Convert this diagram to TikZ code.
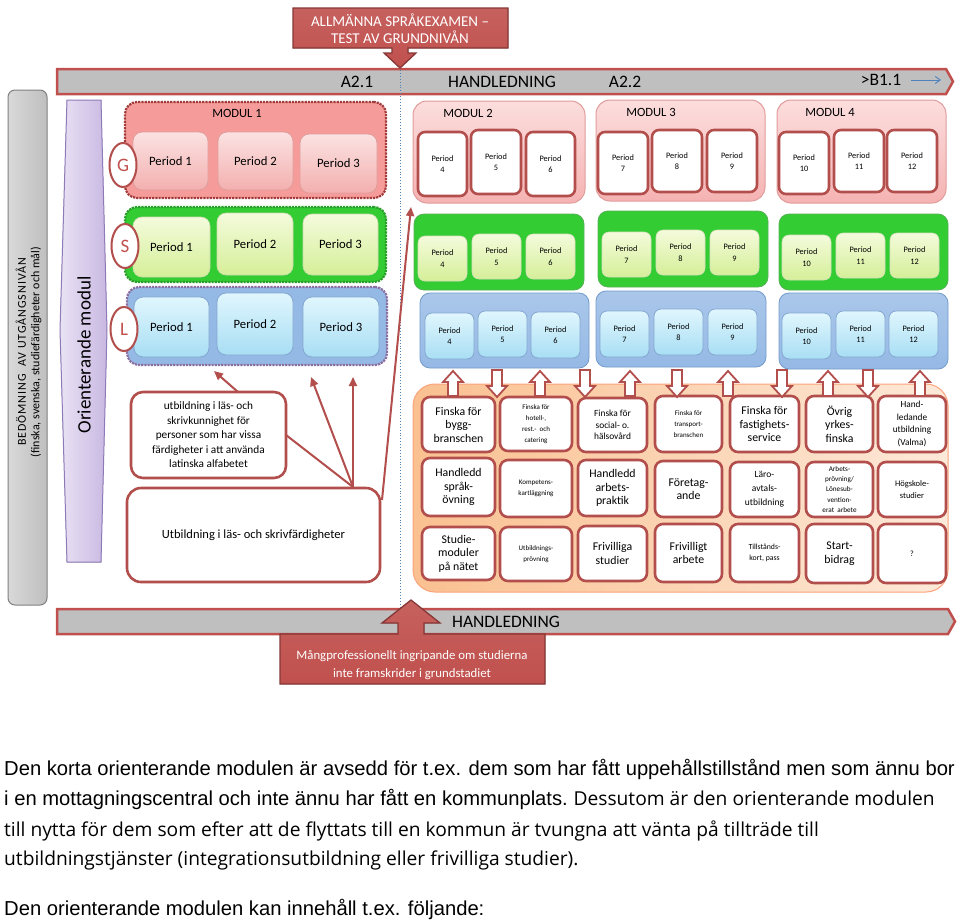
\documentclass[tikz,border=0pt]{standalone}
\usepackage{fontspec}
\setmainfont{Carlito}
\newfontfamily\arialf{Liberation Sans}
\newfontfamily\opensf{Open Sans}
\newfontfamily\spacedf[LetterSpace=8]{Carlito}
\usetikzlibrary{shapes.geometric,arrows.meta}
\definecolor{cred}{HTML}{C0504D}
\definecolor{cbord}{HTML}{B24E4B}
\definecolor{cgray}{HTML}{BFBFBF}
\definecolor{cdgray}{HTML}{808080}
\definecolor{modig}{HTML}{F59C9A}
\definecolor{modigd}{HTML}{A33B3B}
\definecolor{pinkl}{HTML}{FBE2E2}
\definecolor{pinkd}{HTML}{F3B0AF}
\definecolor{cgrn}{HTML}{33CC33}
\definecolor{cgrnd}{HTML}{2A9E2A}
\definecolor{ygl}{HTML}{F4FBDC}
\definecolor{ygd}{HTML}{D5EF98}
\definecolor{cblu}{HTML}{95B9E5}
\definecolor{cblud}{HTML}{8A6FA0}
\definecolor{cyl}{HTML}{E0F6FD}
\definecolor{cyd}{HTML}{A8DEF4}
\definecolor{orl}{HTML}{FDE9D9}
\definecolor{ord}{HTML}{FAC090}
\definecolor{purl}{HTML}{E9E2F4}
\definecolor{purd}{HTML}{C9B8E2}
\definecolor{purb}{HTML}{8F7AB8}
\definecolor{cbl}{HTML}{4F81BD}
\definecolor{modtl}{HTML}{FCDDDD}
\definecolor{modtd}{HTML}{F5B3B2}
\definecolor{modtb}{HTML}{E09C9B}
\newcommand\fsz[2]{\fontsize{#1}{#2}\selectfont}
\newcommand\mybox[7]{%
  \pgfmathsetmacro\bxw{#5-(#3)}%
  \pgfmathsetmacro\bxh{#6-(#4)}%
  \pgfmathsetmacro\bxcx{(#3+#5)/2}%
  \pgfmathsetmacro\bxcy{(#4+#6)/2}%
  \node[#2,minimum width=\bxw pt,minimum height=\bxh pt] (#1) at (\bxcx,\bxcy) {#7};}
\newcommand\uparr[2]{%
  \draw[harr] (#2-5,396) -- (#2-5,382) -- (#2-10,382) -- (#2,371) -- (#2+10,382) -- (#2+5,382) -- (#2+5,396) -- cycle;}
\newcommand\dnarr[2]{%
  \draw[harr] (#2-5,370) -- (#2-5,386) -- (#2-10,386) -- (#2,397) -- (#2+10,386) -- (#2+5,386) -- (#2+5,370) -- cycle;}
\begin{document}
\begin{tikzpicture}[x=1pt,y=-1pt,
  bx/.style={inner sep=0pt,outer sep=0pt,align=center},
  m1g/.style={bx,fill=modig,draw=modigd,densely dotted,line width=2.2pt,rounded corners=12pt},
  m1s/.style={bx,fill=cgrn,draw=cgrnd,densely dotted,line width=2.2pt,rounded corners=12pt},
  m1l/.style={bx,fill=cblu,draw=cblud,densely dotted,line width=2.2pt,rounded corners=12pt},
  pg/.style={bx,top color=pinkl,bottom color=pinkd,draw=modtb,line width=0.8pt,rounded corners=9pt,font=\fsz{12.7}{15}},
  ps/.style={bx,top color=ygl,bottom color=ygd,draw=ygd!80!black!60,line width=0.6pt,rounded corners=9pt,font=\fsz{12.7}{15}},
  pl/.style={bx,top color=cyl,bottom color=cyd,draw=cbl!70,line width=0.8pt,rounded corners=9pt,font=\fsz{12.7}{15}},
  mg/.style={bx,top color=modtl,bottom color=modtd,draw=modtb,line width=1pt,rounded corners=14pt},
  ms/.style={bx,fill=cgrn,draw=cgrnd!80,line width=0.8pt,rounded corners=10pt},
  ml/.style={bx,top color=cblu!80,bottom color=cblu,draw=cbl!80,line width=0.8pt,rounded corners=10pt},
  wp/.style={bx,fill=white,draw=cbord,line width=2.6pt,rounded corners=7pt,font=\fsz{8.3}{11.5}},
  sp/.style={bx,top color=ygl,bottom color=ygd,draw=ygd!80!black!50,line width=0.6pt,rounded corners=7pt,font=\fsz{8.3}{11.5}},
  lp/.style={bx,top color=cyl,bottom color=cyd,draw=cbl!70,line width=0.8pt,rounded corners=7pt,font=\fsz{8.3}{11.5}},
  ob/.style={bx,fill=white,draw=cbord,line width=2.6pt,rounded corners=8pt},
  big/.style={font=\fsz{11.8}{13.5}},
  med/.style={font=\fsz{9.4}{11.5}},
  sml/.style={font=\fsz{7}{11}},
  modlbl/.style={inner sep=0pt,font=\fsz{12.6}{14}},
  circ/.style={ellipse,draw=cbord,line width=2pt,fill=white,inner sep=0pt,minimum width=27pt,minimum height=44pt,text=cred,font=\fsz{19}{21}},
  harr/.style={draw=cbord,line width=1.8pt,fill=white,line join=miter},
  rarr/.style={draw=cbord,line width=2pt,-{Triangle[length=9pt,width=8pt]}},
  rline/.style={draw=cbord,line width=2pt},
  bartxt/.style={inner sep=0pt,font=\fsz{17.5}{19}},
  calltxt/.style={inner sep=0pt,align=center,text=white},
  para/.style={anchor=base west,inner sep=0pt}
]
\useasboundingbox (0,0) rectangle (960,921);
\fill[white] (0,0) rectangle (960,921);

% left gray box
\mybox{assess}{bx,left color=cgray!60,right color=cgray,draw=cdgray,line width=1pt,rounded corners=7pt}{8}{90}{47}{605}{}
\node[rotate=90,align=center,inner sep=0pt,font=\fsz{12}{13.5}] (assesst) at (28.5,352) {{\spacedf BEDÖMNING \ AV UTGÅNGSNIVÅN}\\(finska, svenska, studiefärdigheter och mål)};

% purple orienterande modul
\fill[left color=purl,right color=purd,draw=purb,line width=1pt] (67,100) -- (101,100) -- (107,330) -- (101,562) -- (67,562) -- (60,330) -- cycle;
\node[rotate=90,inner sep=0pt,font=\fsz{19}{21}] (orient) at (84,355) {Orienterande modul};

% top bar
\fill[cgray,draw=cred,line width=2.5pt,line join=miter] (57,69) -- (946,69) -- (953,81.5) -- (946,94) -- (57,94) -- cycle;
\node[bartxt] (a21) at (357,81.5) {A2.1};
\node[bartxt] (hl1) at (502,81.5) {HANDLEDNING};
\node[bartxt] (a22) at (625,82) {A2.2};
\node[bartxt] (b11) at (881,80) {>B1.1};
\coordinate (bla) at (911,80);
\coordinate (blb) at (941,80);
\draw[cbl,line width=0.9pt,-{Straight Barb[length=5pt,width=7pt]}] (bla) -- (blb);

% bottom bar
\fill[cgray,draw=cred,line width=2.5pt,line join=miter] (57,609) -- (948,609) -- (955,621.5) -- (948,634) -- (57,634) -- cycle;
\node[bartxt] (hl2) at (506,621.5) {HANDLEDNING};

% dotted divider
\draw[cbl,dotted,line width=0.9pt] (400,70) -- (400,608);

% top callout
\filldraw[top color=cred!90,bottom color=cred,draw=cred!70!black,line width=1.3pt,line join=miter] (293,8) -- (508,8) -- (508,48) -- (408,48) -- (408,53) -- (416,53) -- (400,68) -- (384,53) -- (392,53) -- (392,48) -- (293,48) -- cycle;
\node[calltxt,font=\fsz{15}{16.7}] (examen) at (400,28.5) {ALLMÄNNA SPRÅKEXAMEN –\\TEST AV GRUNDNIVÅN};

% bottom callout
\filldraw[top color=cred!90,bottom color=cred,draw=cred!70!black,line width=1.3pt,line join=miter] (280,684) -- (545,684) -- (545,634) -- (424,634) -- (424,623) -- (440,623) -- (411,600) -- (382,623) -- (398,623) -- (398,634) -- (280,634) -- cycle;
\node[calltxt,font=\fsz{12.8}{18}] (mangpro) at (412,665) {Mångprofessionellt ingripande om studierna\\inte framskrider i grundstadiet};

% module 1
\mybox{m1gbox}{m1g}{125}{102}{386}{198}{}
\node[modlbl] (mod1) at (237,113) {MODUL 1};
\mybox{g1}{pg}{133}{132}{208}{190}{Period 1}
\mybox{g2}{pg}{218}{132}{293}{190}{Period 2}
\mybox{g3}{pg}{300}{134}{377}{193}{Period 3}
\mybox{m1sbox}{m1s}{125}{207}{386}{282}{}
\mybox{s1}{ps}{133}{217}{210}{277}{Period 1}
\mybox{s2}{ps}{217}{213}{293}{275}{Period 2}
\mybox{s3}{ps}{303}{214}{378}{275}{Period 3}
\mybox{m1lbox}{m1l}{127}{287}{387}{365}{}
\mybox{l1}{pl}{134}{297}{209}{357}{Period 1}
\mybox{l2}{pl}{217}{293}{293}{355}{Period 2}
\mybox{l3}{pl}{303}{297}{379}{357}{Period 3}
\node[circ] (cg) at (123,165) {G};
\node[circ] (cs) at (125,246) {S};
\node[circ] (cl) at (124,329) {L};

% modules 2-4, G row
\mybox{m2g}{mg}{413}{101}{585}{203}{}
\mybox{m3g}{mg}{596}{100}{765}{201}{}
\mybox{m4g}{mg}{777}{100}{946}{203}{}
\node[modlbl] (mod2) at (468,113) {MODUL 2};
\node[modlbl] (mod3) at (651,112) {MODUL 3};
\node[modlbl] (mod4) at (830,112) {MODUL 4};
\mybox{g4}{wp}{418}{132}{467}{196}{Period\\4}
\mybox{g5}{wp}{471}{130}{521}{194}{Period\\5}
\mybox{g6}{wp}{526}{132}{575}{196}{Period\\6}
\mybox{g7}{wp}{598}{132}{648}{194}{Period\\7}
\mybox{g8}{wp}{652}{130}{702}{192}{Period\\8}
\mybox{g9}{wp}{707}{130}{757}{192}{Period\\9}
\mybox{g10}{wp}{779}{132}{829}{194}{Period\\10}
\mybox{g11}{wp}{834}{130}{884}{192}{Period\\11}
\mybox{g12}{wp}{887}{130}{937}{192}{Period\\12}

% green row
\mybox{m2s}{ms}{414}{214}{584}{290}{}
\mybox{m3s}{ms}{598}{211}{768}{287}{}
\mybox{m4s}{ms}{779}{214}{948}{290}{}
\mybox{s4}{sp}{418}{236}{467}{281}{Period\\4}
\mybox{s5}{sp}{472}{234}{521}{279}{Period\\5}
\mybox{s6}{sp}{526}{234}{575}{279}{Period\\6}
\mybox{s7}{sp}{602}{232}{651}{277}{Period\\7}
\mybox{s8}{sp}{656}{230}{705}{275}{Period\\8}
\mybox{s9}{sp}{710}{230}{759}{275}{Period\\9}
\mybox{s10}{sp}{782}{235}{831}{280}{Period\\10}
\mybox{s11}{sp}{836}{233}{885}{278}{Period\\11}
\mybox{s12}{sp}{890}{233}{939}{278}{Period\\12}

% blue row
\mybox{m2l}{ml}{420}{293}{589}{368}{}
\mybox{m3l}{ml}{596}{291}{766}{367}{}
\mybox{m4l}{ml}{779}{293}{948}{369}{}
\mybox{l4}{lp}{425}{313}{474}{359}{Period\\4}
\mybox{l5}{lp}{478}{311}{527}{357}{Period\\5}
\mybox{l6}{lp}{531}{312}{580}{358}{Period\\6}
\mybox{l7}{lp}{600}{311}{649}{357}{Period\\7}
\mybox{l8}{lp}{654}{309}{703}{355}{Period\\8}
\mybox{l9}{lp}{708}{309}{757}{355}{Period\\9}
\mybox{l10}{lp}{782}{313}{831}{359}{Period\\10}
\mybox{l11}{lp}{836}{311}{885}{357}{Period\\11}
\mybox{l12}{lp}{889}{311}{938}{357}{Period\\12}

% orange region
\mybox{orbox}{bx,left color=ord,right color=orl,draw=ord!85!red,line width=1pt,rounded corners=22pt}{413}{384}{948}{592}{}

\mybox{o11}{ob,big}{422}{397}{495}{452}{Finska för\\bygg-\\branschen}
\mybox{o12}{ob,sml}{500}{397}{572}{451}{Finska för\\hotell-,\\rest.- \ och\\catering}
\mybox{o13}{ob,med}{578}{398}{647}{452}{Finska för\\social- o.\\hälsovård}
\mybox{o14}{ob,sml}{655}{396}{722}{452}{Finska för\\transport-\\branschen}
\mybox{o15}{ob,big}{730}{396}{799}{452}{Finska för\\fastighets-\\service}
\mybox{o16}{ob,big}{806}{396}{873}{452}{Övrig\\yrkes-\\finska}
\mybox{o17}{ob,font=\fsz{9.3}{12.5}}{878}{396}{946}{452}{Hand-\\ledande\\utbildning\\(Valma)}

\mybox{o21}{ob,big}{422}{458}{495}{516}{Handledd\\språk-\\övning}
\mybox{o22}{ob,sml}{500}{460}{572}{517}{Kompetens-\\kartläggning}
\mybox{o23}{ob,big}{578}{460}{647}{516}{Handledd\\arbets-\\praktik}
\mybox{o24}{ob,big}{655}{461}{722}{517}{Företag-\\ande}
\mybox{o25}{ob,font=\fsz{9.5}{14}}{730}{462}{799}{517}{Läro-\\avtals-\\utbildning}
\mybox{o26}{ob,font=\fsz{7.2}{10.3}}{806}{462}{873}{517}{Arbets-\\prövning/\\Lönesub-\\vention-\\erat \ arbete}
\mybox{o27}{ob,font=\fsz{8.5}{12}}{878}{462}{946}{517}{Högskole-\\studier}

\mybox{o31}{ob,big}{422}{527}{495}{580}{Studie-\\moduler\\på nätet}
\mybox{o32}{ob,sml}{500}{527}{572}{581}{Utbildnings-\\prövning}
\mybox{o33}{ob,big}{578}{526}{647}{581}{Frivilliga\\studier}
\mybox{o34}{ob,big}{655}{524}{722}{582}{Frivilligt\\arbete}
\mybox{o35}{ob,font=\fsz{7.8}{11}}{730}{524}{799}{582}{Tillstånds-\\kort, pass}
\mybox{o36}{ob,big}{806}{524}{873}{583}{Start-\\bidrag}
\mybox{o37}{ob,font=\fsz{8}{10}}{878}{524}{946}{583}{?}

% hollow arrows
\uparr{u1}{453}
\dnarr{d1}{497}
\uparr{u2}{540}
\dnarr{d2}{585}
\uparr{u3}{630}
\dnarr{d3}{677}
\uparr{u4}{728}
\dnarr{d4}{782}
\uparr{u5}{828}
\dnarr{d5}{868}
\uparr{u6}{920}

% left lower boxes
\mybox{sb}{ob,rounded corners=12pt,font=\fsz{11.3}{14.5}}{131}{392}{286}{478}{utbildning i läs- och\\skrivkunnighet för\\personer som har vissa\\färdigheter i att använda\\latinska alfabetet}
\mybox{lb}{ob,rounded corners=14pt,font=\fsz{12.5}{14}}{127}{488}{380}{582}{Utbildning i läs- och skrivfärdigheter}

% red connectors
\coordinate (cv) at (353,487);
\coordinate (s1) at (238,392);
\coordinate (e1) at (214,371);
\coordinate (e2) at (311,377);
\coordinate (e3) at (353,377);
\coordinate (s4) at (382,500);
\coordinate (e4) at (411,207);
\draw[rarr] (s1) -- (e1);
\draw[rline] (sb.east) -- (cv);
\draw[rarr] (cv) -- (e2);
\draw[rarr] (cv) -- (e3);
\draw[rarr] (s4) -- (e4);

% paragraph
\node[para,font=\arialf\fsz{20.2}{24}] (t1) at (4,775) {Den korta orienterande modulen är avsedd för t.ex. dem som har fått uppehållstillstånd men som ännu bor};
\node[para,font=\fsz{19}{24}] (t2) at (4,805) {{\arialf\fsz{20.2}{24}i en mottagningscentral och inte ännu har fått en kommunplats.} {\opensf\fsz{19.2}{24}Dessutom är den orienterande modulen}};
\node[para,font=\opensf\fsz{19.2}{24}] (t3) at (4,836) {till nytta för dem som efter att de flyttats till en kommun är tvungna att vänta på tillträde till};
\node[para,font=\opensf\fsz{19.2}{24}] (t4) at (4,865) {utbildningstjänster (integrationsutbildning eller frivilliga studier).};
\node[para,font=\arialf\fsz{20.2}{24}] (t5) at (4,915) {Den orienterande modulen kan innehåll t.ex. följande:};
\end{tikzpicture}
\end{document}
